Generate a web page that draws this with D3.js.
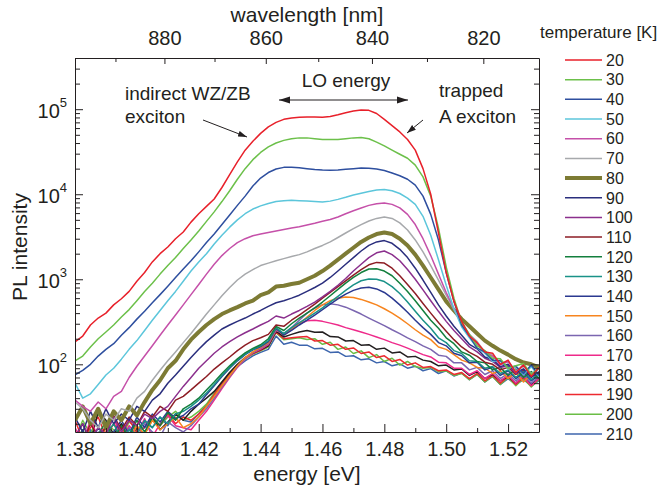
<!DOCTYPE html>
<html>
<head>
<meta charset="utf-8">
<script src="https://cdn.jsdelivr.net/npm/d3@7"></script>
<style>
  body { margin: 0; background: #fff; }
  svg text { font-family: "Liberation Sans", Arial, Helvetica, sans-serif; fill: #231f20; }
</style>
</head>
<body>
<div id="chart"></div>
<script>
// photon energy grid [eV]
const energy = [1.3800,1.3825,1.3850,1.3875,1.3900,1.3925,1.3950,1.3975,1.4000,1.4025,
  1.4050,1.4075,1.4100,1.4125,1.4150,1.4175,1.4200,1.4225,1.4250,1.4275,
  1.4300,1.4325,1.4350,1.4375,1.4400,1.4425,1.4450,1.4475,1.4500,1.4525,
  1.4550,1.4575,1.4600,1.4625,1.4650,1.4675,1.4700,1.4725,1.4750,1.4775,
  1.4800,1.4825,1.4850,1.4875,1.4900,1.4925,1.4950,1.4975,1.5000,1.5025,
  1.5050,1.5075,1.5100,1.5125,1.5150,1.5175,1.5200,1.5225,1.5250,1.5275,1.5300];

const temps = [20,30,40,50,60,70,80,90,100,110,120,130,140,150,160,170,180,190,200,210];

// PL intensity per temperature
const pl20 = [183,215,290,350,400,500,590,720,950,1200,1600,2000,2400,3000,3600,4700,5900,7200,8800,12000,17000,24000,33000,42000,52000,62000,70000,76000,79000,80500,81000,81000,80500,82000,86000,91000,95000,98000,97000,89000,76000,64000,54000,44000,33000,20000,10000,3500,1200,550,320,215,180,140,135,100,112,80,98,72,92];
const pl30 = [110,125,160,200,240,290,360,440,560,720,900,1150,1450,1800,2300,2900,3700,4800,6200,8200,11000,15000,20000,25500,31000,36000,40000,43000,45000,46000,46000,45000,44000,44000,44000,45000,46000,46500,45000,41000,37000,33000,29500,26500,22000,16000,9500,4000,1400,600,310,225,165,145,118,116,90,96,102,76,90];
const pl40 = [75,85,100,125,150,175,220,270,340,420,530,660,830,1050,1320,1650,2100,2700,3400,4400,5700,7400,9500,12500,15500,18000,19800,20700,20800,20500,20000,19600,19300,19200,19300,19700,20000,20300,20200,19800,19000,17800,16500,15000,12800,9500,5800,2900,1200,550,290,215,155,140,112,110,92,94,78,98,74];
const pl50 = [60,40,45,58,75,90,115,150,190,250,330,430,560,720,950,1250,1600,2000,2600,3300,4100,5000,5900,6700,7300,7800,8200,8400,8500,8400,8300,8200,8100,8300,8700,9200,9800,10300,10800,11200,11400,11000,10200,9000,7600,5500,3300,1700,850,450,275,205,155,135,108,112,90,96,76,94,72];
const pl60 = [38,32,28,36,30,42,48,70,95,125,165,220,290,380,500,660,870,1150,1500,1900,2300,2700,3000,3250,3400,3550,3700,3850,4000,4150,4350,4550,4800,5050,5400,5900,6400,6900,7400,7750,7900,7600,6900,5800,4400,3000,1900,1150,700,450,300,215,175,135,125,98,108,80,100,74,90];
const pl70 = [36,30,22,18,26,22,30,28,40,48,65,85,110,140,180,230,300,390,500,640,800,980,1150,1300,1450,1550,1650,1750,1850,1950,2100,2300,2500,2750,3100,3500,3950,4400,4850,5200,5400,5200,4600,3800,2900,2100,1450,980,650,440,310,225,185,140,128,102,108,84,94,78,88];
const pl80 = [22,32,20,30,18,28,22,32,25,36,50,65,90,110,150,195,240,290,340,390,430,470,520,560,650,700,820,840,880,910,1000,1100,1250,1450,1700,2000,2350,2750,3100,3400,3550,3400,3000,2500,1950,1450,1050,760,550,430,340,280,230,190,165,145,130,115,105,100,92];
const pl90 = [24,16,28,18,30,20,26,22,32,28,38,45,60,75,95,120,150,185,220,260,290,320,350,390,430,480,530,560,600,650,720,800,900,1050,1250,1500,1800,2150,2500,2750,2850,2650,2250,1800,1350,980,700,500,370,280,220,172,152,122,114,94,100,80,88,70,82];
const pl100 = [14,20,13,18,15,24,16,22,19,26,23,28,32,42,55,70,90,110,135,160,185,210,235,260,290,320,370,350,390,430,480,540,620,720,850,1020,1250,1500,1800,2050,2150,1950,1650,1300,1000,750,560,420,320,250,200,160,140,118,108,92,96,78,88,72,80];
const pl110 = [16,12,20,14,18,25,17,24,19,28,24,32,28,38,42,50,60,72,88,104,122,145,168,190,205,225,290,280,330,380,440,510,600,700,820,960,1120,1300,1480,1580,1550,1350,1100,870,680,520,400,310,245,195,160,138,124,106,100,86,92,76,86,72,80];
const pl120 = [12,17,11,15,21,13,19,14,22,16,24,19,27,22,30,34,40,50,62,78,96,116,136,154,170,200,280,250,300,350,400,460,540,640,760,900,1050,1200,1320,1330,1250,1100,900,720,560,430,330,265,205,175,140,128,108,104,86,92,74,88,70,82,68];
const pl130 = [14,10,16,12,15,20,13,17,15,22,18,24,20,26,28,32,38,46,58,74,92,112,132,150,165,190,270,230,270,310,350,400,460,540,630,740,860,960,1010,1000,940,820,680,540,420,330,265,205,180,145,134,110,108,90,94,78,86,70,84,66,78];
const pl140 = [11,15,12,18,14,16,22,15,24,18,26,21,28,23,25,30,34,44,56,72,90,110,130,148,162,185,265,220,250,290,330,380,440,510,590,670,740,790,805,770,700,600,500,410,330,270,225,180,165,135,126,104,106,86,92,74,84,68,80,64,76];
const pl150 = [12,10,15,11,18,13,16,12,19,15,22,17,20,24,18,20,24,32,42,56,74,96,120,140,158,180,262,220,255,300,360,430,500,560,600,620,610,580,540,500,450,400,350,300,255,220,195,160,150,130,112,104,92,90,78,84,68,80,62,76,70];
const pl160 = [10,14,11,16,12,15,11,18,13,20,16,14,21,18,16,19,24,30,40,54,72,94,118,138,155,175,255,230,270,330,400,460,500,515,500,470,430,390,350,315,285,255,230,205,185,165,150,128,124,104,104,86,92,76,84,68,78,64,76,60,72];
const pl170 = [18,12,22,14,16,24,13,19,15,23,14,20,25,19,18,17,22,28,38,52,70,92,116,136,150,170,250,230,260,300,325,330,320,305,290,270,255,240,225,210,195,180,168,155,142,130,122,106,104,90,90,76,84,68,78,64,74,60,72,56,68];
const pl180 = [14,20,12,28,22,15,20,13,18,15,24,17,21,26,22,28,34,40,48,62,80,100,120,136,148,165,245,210,225,240,250,238,240,212,210,188,190,168,170,150,155,136,140,122,124,112,108,96,98,86,88,74,82,68,76,64,72,60,72,58,68];
const pl190 = [22,13,18,24,14,20,15,22,16,18,24,19,26,20,24,22,26,32,44,60,78,98,118,134,146,165,240,200,205,210,212,188,190,168,172,150,156,134,140,120,126,108,114,98,104,92,94,84,86,76,80,68,78,64,74,60,72,58,70,56,68];
const pl200 = [13,22,15,26,20,17,14,21,18,15,22,19,24,28,22,24,28,34,46,62,80,98,116,132,144,160,235,195,200,205,196,200,172,182,150,160,134,144,120,130,108,118,98,108,94,90,92,82,84,74,78,66,76,62,72,58,70,56,68,54,66];
const pl210 = [15,11,17,13,19,12,20,15,17,21,18,24,19,26,22,21,26,33,44,58,76,94,110,126,138,150,215,172,182,168,168,152,154,138,140,124,126,113,116,104,108,96,101,90,95,84,89,78,84,73,79,66,76,62,72,58,68,58,66,56,64];

const series = [pl20,pl30,pl40,pl50,pl60,pl70,pl80,pl90,pl100,pl110,pl120,pl130,pl140,pl150,pl160,pl170,pl180,pl190,pl200,pl210];
const colors = ["#e8202a","#6cc04a","#2e4f9f","#5cc6db","#c550a9","#a7a9ac","#7d7b34","#2a2e7d","#8b2f8d","#8d1d24",
  "#137f3d","#1a9288","#2b3990","#f7851f","#7b66b0","#ee2a8a","#231f20","#ed2a30","#6abd45","#3c65ad"];

// axis ticks
const energyMajor = [1.38,1.40,1.42,1.44,1.46,1.48,1.50,1.52];
const energyMinor = [1.39,1.41,1.43,1.45,1.47,1.49,1.51];
const waveMajor = [880,860,840,820];
const waveMinor = [890,870,850,830];
const decades = [1e2,1e3,1e4,1e5];
const decadeMinor = [20,30,40,50,60,70,80,90,200,300,400,500,600,700,800,900,
  2000,3000,4000,5000,6000,7000,8000,9000,20000,30000,40000,50000,60000,70000,80000,90000,200000,300000,400000];

const width = 663, height = 489;
const ink = "#231f20";
const plotL = 75, plotR = 539, plotT = 58, plotB = 432;

const svg = d3.select("#chart").append("svg")
    .attr("width", width)
    .attr("height", height);

const x = d3.scaleLinear().domain([1.38, 1.53]).range([plotL, plotR]);
const y = d3.scaleLog().domain([16, 4e5]).range([plotB, plotT]);
const hc = 1239.84; // nm*eV

function styleAxis(g, size) {
    g.attr("font-family", null).attr("font-size", size);
    g.selectAll("path,line").attr("stroke", ink).attr("stroke-width", 1);
    g.selectAll("text").attr("fill", ink);
}

// lines
svg.append("clipPath").attr("id", "plotclip")
    .append("rect").attr("x", plotL).attr("y", plotT)
    .attr("width", plotR - plotL).attr("height", plotB - plotT);

const line = d3.line()
    .x((d, i) => x(energy[i]))
    .y(d => y(d));

const order = d3.range(series.length).reverse();
svg.append("g").attr("clip-path", "url(#plotclip)")
    .selectAll("path")
    .data(order)
    .enter()
    .append("path")
    .attr("d", i => line(series[i]))
    .attr("fill", "none")
    .attr("stroke", i => colors[i])
    .attr("stroke-width", i => temps[i] === 80 ? 4 : 1.5)
    .attr("stroke-linejoin", "round");

// bottom axis
const gx = svg.append("g").attr("transform", `translate(0,${plotB})`)
    .call(d3.axisBottom(x).tickValues(energyMajor).tickSize(-8).tickSizeOuter(0)
        .tickPadding(10).tickFormat(d3.format(".2f")));
styleAxis(gx, 20);
const gx2 = svg.append("g").attr("transform", `translate(0,${plotB})`)
    .call(d3.axisBottom(x).tickValues(energyMinor).tickSize(-4).tickSizeOuter(0).tickFormat(""));
gx2.select(".domain").remove();
styleAxis(gx2, 20);

// top axis (wavelength)
const gt = svg.append("g").attr("transform", `translate(0,${plotT})`)
    .call(d3.axisTop(x).tickValues(waveMajor.map(w => hc / w)).tickSize(-6).tickSizeOuter(0)
        .tickPadding(13).tickFormat(e => Math.round(hc / e)));
styleAxis(gt, 20);
const gt2 = svg.append("g").attr("transform", `translate(0,${plotT})`)
    .call(d3.axisTop(x).tickValues(waveMinor.map(w => hc / w)).tickSize(-4).tickSizeOuter(0).tickFormat(""));
gt2.select(".domain").remove();
styleAxis(gt2, 20);

// left axis
const gy = svg.append("g").attr("transform", `translate(${plotL},0)`)
    .call(d3.axisLeft(y).tickValues(decades).tickSize(-8).tickSizeOuter(0).tickPadding(8));
styleAxis(gy, 20);
gy.selectAll(".tick text").each(function(d) {
    const t = d3.select(this);
    t.text(null).attr("dy", "0.4em");
    t.append("tspan").text("10");
    t.append("tspan").attr("font-size", 13).attr("dy", "-0.8em").text(Math.round(Math.log10(d)));
});
const gy2 = svg.append("g").attr("transform", `translate(${plotL},0)`)
    .call(d3.axisLeft(y).tickValues(decadeMinor).tickSize(-5).tickSizeOuter(0).tickFormat(""));
gy2.select(".domain").remove();
styleAxis(gy2, 20);

// right axis
const gr = svg.append("g").attr("transform", `translate(${plotR},0)`)
    .call(d3.axisRight(y).tickValues(decades).tickSize(-8).tickSizeOuter(0).tickFormat(""));
styleAxis(gr, 20);
const gr2 = svg.append("g").attr("transform", `translate(${plotR},0)`)
    .call(d3.axisRight(y).tickValues(decadeMinor).tickSize(-5).tickSizeOuter(0).tickFormat(""));
gr2.select(".domain").remove();
styleAxis(gr2, 20);

// axis titles
svg.append("text").attr("x", (plotL + plotR) / 2).attr("y", 481)
    .attr("text-anchor", "middle").attr("font-size", 21).text("energy [eV]");
svg.append("text").attr("x", (plotL + plotR) / 2).attr("y", 22)
    .attr("text-anchor", "middle").attr("font-size", 21).text("wavelength [nm]");
svg.append("text").attr("transform", "translate(27,247) rotate(-90)")
    .attr("text-anchor", "middle").attr("font-size", 21).text("PL intensity");

// annotations
const defs = svg.append("defs");
defs.append("marker").attr("id", "head").attr("markerUnits", "userSpaceOnUse")
    .attr("markerWidth", 12).attr("markerHeight", 8).attr("refX", 11).attr("refY", 4)
    .attr("orient", "auto-start-reverse")
    .append("path").attr("d", "M0,0.5 L11,4 L0,7.5 Z").attr("fill", ink);
defs.append("marker").attr("id", "headS").attr("markerUnits", "userSpaceOnUse")
    .attr("markerWidth", 10).attr("markerHeight", 7).attr("refX", 9).attr("refY", 3.5)
    .attr("orient", "auto")
    .append("path").attr("d", "M0,0.5 L9,3.5 L0,6.5 Z").attr("fill", ink);

svg.append("line").attr("x1", 279).attr("y1", 100).attr("x2", 408).attr("y2", 100)
    .attr("stroke", ink).attr("stroke-width", 1.2)
    .attr("marker-start", "url(#head)").attr("marker-end", "url(#head)");
svg.append("line").attr("x1", 203).attr("y1", 120).attr("x2", 247).attr("y2", 137)
    .attr("stroke", ink).attr("stroke-width", 1).attr("marker-end", "url(#headS)");
svg.append("line").attr("x1", 423).attr("y1", 120).attr("x2", 407).attr("y2", 133)
    .attr("stroke", ink).attr("stroke-width", 1).attr("marker-end", "url(#headS)");

const notes = [
    {t: "LO energy", x: 346, y: 87, a: "middle"},
    {t: "indirect WZ/ZB", x: 125, y: 100, a: "start"},
    {t: "exciton", x: 125, y: 123, a: "start"},
    {t: "trapped", x: 439, y: 97, a: "start"},
    {t: "A exciton", x: 439, y: 123, a: "start"}
];
svg.selectAll(".note").data(notes).enter().append("text")
    .attr("class", "note")
    .attr("x", d => d.x).attr("y", d => d.y)
    .attr("text-anchor", d => d.a)
    .attr("font-size", 19)
    .text(d => d.t);

// legend
const legend = svg.append("g");
legend.append("text").attr("x", 540).attr("y", 38).attr("font-size", 17).text("temperature [K]");
temps.forEach((t, i) => {
    const ly = 60 + i * 19.68;
    legend.append("line")
        .attr("x1", 565).attr("x2", 602).attr("y1", ly).attr("y2", ly)
        .attr("stroke", colors[i])
        .attr("stroke-width", t === 80 ? 4 : 1.5);
    legend.append("text")
        .attr("x", 606).attr("y", ly).attr("dy", "0.36em")
        .attr("font-size", 16)
        .text(t);
});
</script>
</body>
</html>
